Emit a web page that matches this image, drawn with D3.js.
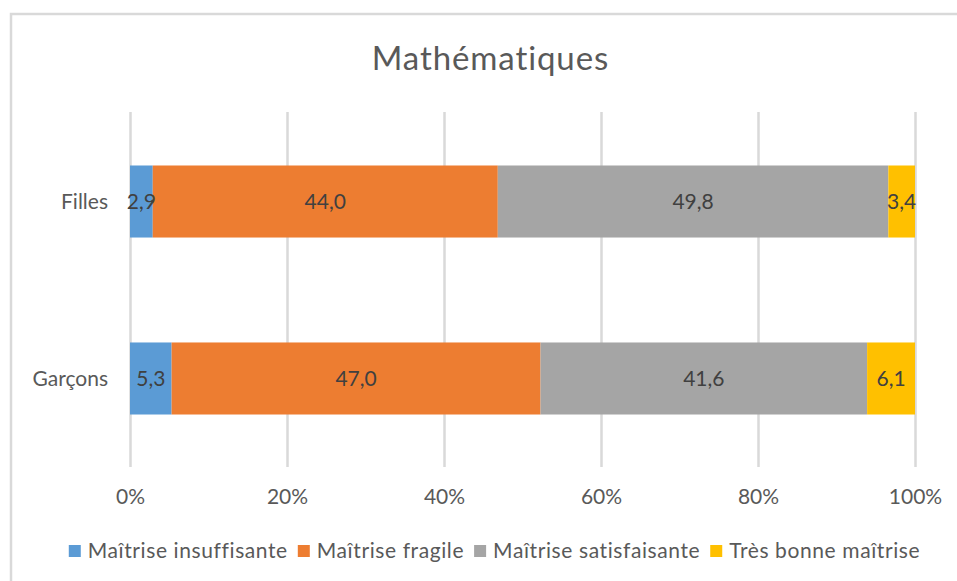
<!DOCTYPE html>
<html><head><meta charset="utf-8">
<script src="https://cdn.jsdelivr.net/npm/d3@7"></script>
<style>
html,body{margin:0;padding:0;background:#fff;}
svg{display:block;font-family:Lato,"Open Sans",sans-serif;}
</style></head>
<body>
<svg id="chart" width="957" height="581"></svg>
<script>
const title = "Mathématiques";
const categories = ["Filles", "Garçons"];
const seriesNames = ["Maîtrise insuffisante", "Maîtrise fragile", "Maîtrise satisfaisante", "Très bonne maîtrise"];
const seriesColors = ["#5B9BD5", "#ED7D31", "#A5A5A5", "#FFC000"];
const insuffisante = [2.9, 5.3];
const fragile = [44.0, 47.0];
const satisfaisante = [49.8, 41.6];
const tresBonne = [3.4, 6.1];
const tickValues = [0, 0.2, 0.4, 0.6, 0.8, 1.0];
const tickLabels = ["0%", "20%", "40%", "60%", "80%", "100%"];

const seriesValues = [insuffisante, fragile, satisfaisante, tresBonne];
const rows = categories.map((c, i) => {
  const r = {cat: c};
  seriesNames.forEach((s, j) => r[s] = seriesValues[j][i]);
  return r;
});

const svg = d3.select("#chart");

// outer chart border (only top/left visible in frame)
svg.append("rect").attr("x", 11).attr("y", 14).attr("width", 980).attr("height", 600)
  .attr("fill", "#fff").attr("stroke", "#d9d9d9").attr("stroke-width", 2.5);

const plot = {left: 130, right: 915, top: 112, bottom: 467};

const x = d3.scaleLinear().domain([0, 1]).range([plot.left, plot.right]);
const y = d3.scaleBand().domain(categories).range([113, 467]).paddingInner(0.593).paddingOuter(0.2966);

svg.append("text").attr("x", 490.5).attr("y", 70).attr("text-anchor", "middle")
  .attr("fill", "#595959").style("font-size", "33px").style("letter-spacing", "0.9px").text(title);

// gridlines + tick labels
const gx = svg.append("g").attr("transform", `translate(0,${plot.bottom})`)
  .call(d3.axisBottom(x).tickValues(tickValues).tickSize(-(plot.bottom - plot.top))
    .tickFormat((d, i) => tickLabels[i]));
gx.select(".domain").remove();
gx.selectAll(".tick line").attr("stroke", "#d9d9d9").attr("stroke-width", 2.5);
gx.selectAll(".tick text").attr("fill", "#595959").style("font-size", "21px")
  .attr("y", 30).attr("dy", "0.35em").style("font-family", "Lato, sans-serif");

// category labels
svg.append("g").selectAll("text").data(categories).join("text")
  .attr("x", 108).attr("y", d => y(d) + y.bandwidth() / 2).attr("dy", "0.35em")
  .attr("text-anchor", "end").attr("fill", "#595959").style("font-size", "21px").text(d => d);

const stack = d3.stack().keys(seriesNames).offset(d3.stackOffsetExpand);
const stacked = stack(rows);

const fmt = v => d3.format(".1f")(v).replace(".", ",");

const layers = svg.append("g").selectAll("g").data(stacked).join("g")
  .attr("fill", (d, i) => seriesColors[i]);
layers.selectAll("rect").data(d => d.map(p => ({p, key: d.key}))).join("rect")
  .attr("x", d => x(d.p[0])).attr("width", d => x(d.p[1]) - x(d.p[0]))
  .attr("y", d => y(d.p.data.cat)).attr("height", y.bandwidth());

const labels = svg.append("g");
stacked.forEach(layer => {
  layer.forEach(p => {
    labels.append("text")
      .attr("x", x((p[0] + p[1]) / 2)).attr("y", y(p.data.cat) + y.bandwidth() / 2)
      .attr("dy", "0.35em").attr("text-anchor", "middle")
      .attr("fill", "#404040").style("font-size", "21px")
      .text(fmt(p.data[layer.key]));
  });
});

// legend
const leg = svg.append("g");
let cx = 0;
seriesNames.forEach((s, i) => {
  const g = leg.append("g");
  g.append("rect").attr("x", 0).attr("y", -6).attr("width", 12).attr("height", 12).attr("fill", seriesColors[i]);
  const t = g.append("text").attr("x", 19).attr("y", 0).attr("dy", "0.35em")
    .attr("fill", "#595959").style("font-size", "21px").style("letter-spacing", "0.6px").text(s);
  const w = 19 + t.node().getComputedTextLength();
  g.attr("transform", `translate(${cx},0)`);
  cx += w + 10;
});
const totalW = cx - 10;
leg.attr("transform", `translate(${494.5 - totalW / 2},551)`);
</script>
</body></html>
